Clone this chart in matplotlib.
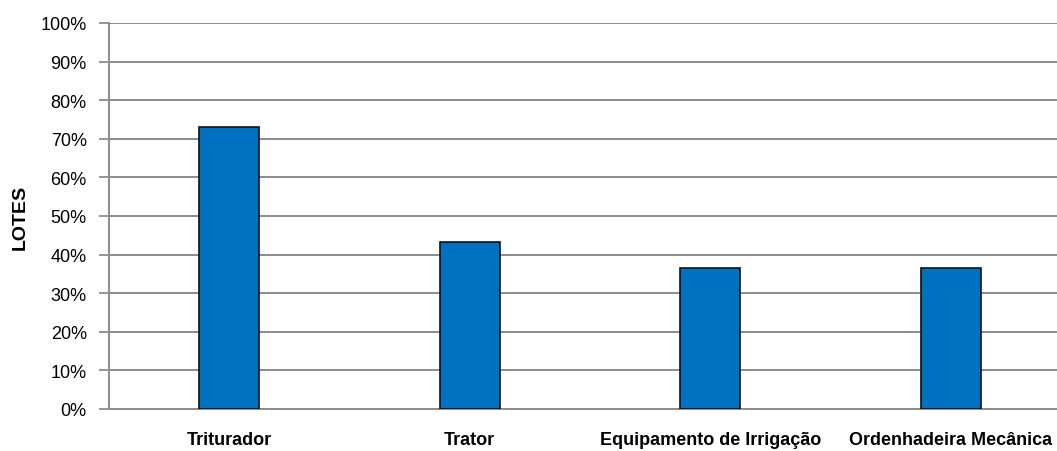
import matplotlib
matplotlib.use("Agg")
import matplotlib.pyplot as plt
from matplotlib.ticker import FuncFormatter

categories = ["Triturador", "Trator", "Equipamento de Irrigação", "Ordenhadeira Mecânica"]
values = [73.0, 43.3, 36.5, 36.5]
y_ticks = list(range(0, 101, 10))

plt.rcParams["font.family"] = ["Liberation Sans", "DejaVu Sans"]

W, H = 1057, 452
fig = plt.figure(figsize=(W / 100, H / 100), dpi=100)
ax = fig.add_axes([109 / W, 42 / H, 962 / W, 386 / H])

x = range(len(categories))
ax.bar(x, values, width=0.25, color="#0070C0", edgecolor="#111111", linewidth=1.2, zorder=3)

ax.set_xlim(-0.5, len(categories) - 0.5)
ax.set_ylim(0, 100)
ax.set_yticks(y_ticks)
ax.yaxis.set_major_formatter(FuncFormatter(lambda v, _: f"{int(v)}%"))
ax.set_xticks(list(x))
ax.set_xticklabels(categories, fontweight="bold", fontsize=13)
ax.tick_params(axis="x", length=0, pad=16)
ax.tick_params(axis="y", length=7, width=1.3, color="#8c8c8c", labelsize=13, pad=9)

ax.grid(axis="y", color="#8c8c8c", linewidth=1.4, zorder=0)
for side in ("top", "right"):
    ax.spines[side].set_visible(False)
for side in ("left", "bottom"):
    ax.spines[side].set_color("#8c8c8c")
    ax.spines[side].set_linewidth(1.4)

ax.set_ylabel("LOTES", fontweight="bold", fontsize=14)
ax.yaxis.set_label_coords(-80 / 962, 0.5)

fig.savefig("out.png", dpi=100)
